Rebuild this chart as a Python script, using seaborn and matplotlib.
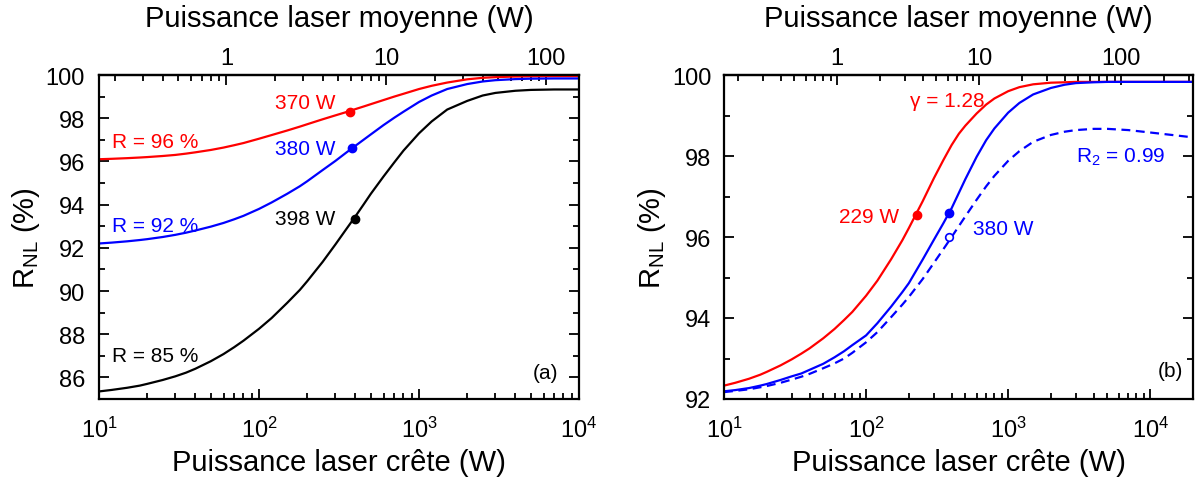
import numpy as np
import pandas as pd
import matplotlib
matplotlib.use("Agg")
import matplotlib.pyplot as plt
from matplotlib.ticker import MultipleLocator, LogLocator, NullFormatter
import seaborn as sns

sns.set_theme(style="ticks")
plt.rcParams["font.family"] = ["Liberation Sans", "DejaVu Sans"]
plt.rcParams["mathtext.fontset"] = "custom"
plt.rcParams["mathtext.rm"] = "Liberation Sans"
plt.rcParams["mathtext.it"] = "Liberation Sans:italic"
for k in ["xtick.color", "ytick.color", "axes.edgecolor", "axes.labelcolor", "text.color"]:
    plt.rcParams[k] = "black"

# peak power (W) -> mean power (W)
MEAN_PER_PEAK = 0.016

# panel (a): R_NL (%) vs peak power for three linear reflectivities
peak_a = [10, 12, 15, 18, 20, 25, 30, 35, 40, 50, 60, 70, 80, 100, 120, 150,
          180, 200, 250, 300, 350, 400, 450, 500, 600, 700, 800, 1000, 1200,
          1500, 2000, 2500, 3000, 4000, 5000, 7000, 10000]
r96 = [96.1, 96.12, 96.15, 96.18, 96.2, 96.25, 96.3, 96.36, 96.42, 96.53,
       96.64, 96.75, 96.85, 97.05, 97.22, 97.43, 97.61, 97.72, 97.95, 98.13,
       98.28, 98.42, 98.54, 98.65, 98.84, 99.0, 99.13, 99.35, 99.5, 99.65,
       99.8, 99.87, 99.9, 99.93, 99.94, 99.95, 99.95]
r92 = [92.2, 92.24, 92.3, 92.36, 92.4, 92.5, 92.6, 92.7, 92.8, 92.98, 93.15,
       93.32, 93.48, 93.8, 94.1, 94.5, 94.85, 95.08, 95.6, 96.02, 96.4, 96.72,
       97.0, 97.25, 97.68, 98.02, 98.3, 98.75, 99.05, 99.35, 99.58, 99.7,
       99.76, 99.81, 99.83, 99.84, 99.84]
r85 = [85.35, 85.42, 85.52, 85.62, 85.7, 85.88, 86.05, 86.22, 86.4, 86.75,
       87.08, 87.4, 87.7, 88.25, 88.75, 89.45, 90.05, 90.45, 91.35, 92.15,
       92.85, 93.45, 94.0, 94.5, 95.3, 95.95, 96.5, 97.3, 97.85, 98.4, 98.8,
       99.05, 99.17, 99.27, 99.31, 99.33, 99.33]
pts_a_x = [370, 380, 398]
pts_a_y = [98.3, 96.6, 93.35]
pts_a_lbl = ["370 W", "380 W", "398 W"]

# panel (b): R = 92 %, gamma = 1.28 / nominal / with R2 = 0.99
peak_b = peak_a + [15000, 20000]
gamma128 = [92.33, 92.4, 92.5, 92.6, 92.67, 92.83, 92.98, 93.12, 93.25, 93.5,
            93.73, 93.95, 94.15, 94.55, 94.92, 95.45, 95.92, 96.22, 96.88,
            97.45, 97.9, 98.27, 98.55, 98.75, 99.05, 99.27, 99.42, 99.6, 99.7,
            99.77, 99.81, 99.82, 99.83, 99.83, 99.83, 99.83, 99.83, 99.83, 99.83]
nominal = [92.19, 92.22, 92.27, 92.33, 92.37, 92.47, 92.56, 92.63, 92.72,
           92.87, 93.03, 93.18, 93.33, 93.57, 93.87, 94.28, 94.64, 94.86, 95.44,
           95.93, 96.34, 96.71, 97.09, 97.43, 97.98, 98.39, 98.68, 99.07, 99.31,
           99.52, 99.68, 99.76, 99.8, 99.82, 99.83, 99.83, 99.83, 99.83, 99.83]
r2_099 = [92.17, 92.2, 92.24, 92.29, 92.32, 92.4, 92.48, 92.55, 92.62, 92.76,
          92.88, 93.0, 93.14, 93.4, 93.65, 94.02, 94.33, 94.52, 94.96, 95.36,
          95.7, 96.0, 96.27, 96.51, 96.92, 97.25, 97.51, 97.88, 98.12, 98.35,
          98.52, 98.6, 98.64, 98.67, 98.67, 98.64, 98.58, 98.51, 98.46]

df_a = pd.concat([
    pd.DataFrame({"P": peak_a, "R": r96, "K": "96"}),
    pd.DataFrame({"P": peak_a, "R": r92, "K": "92"}),
    pd.DataFrame({"P": peak_a, "R": r85, "K": "85"}),
])
df_b = pd.concat([
    pd.DataFrame({"P": peak_b, "R": gamma128, "K": "g", "S": "solid"}),
    pd.DataFrame({"P": peak_b, "R": nominal, "K": "n", "S": "solid"}),
    pd.DataFrame({"P": peak_b, "R": r2_099, "K": "n", "S": "dash"}),
])

fig = plt.figure(figsize=(12, 4.89), dpi=100)
ax_a = fig.add_axes([99 / 1200, 1 - 400 / 489, 480 / 1200, 324 / 489])
ax_b = fig.add_axes([724 / 1200, 1 - 400 / 489, 469 / 1200, 324 / 489])

sns.lineplot(data=df_a, x="P", y="R", hue="K", palette=["red", "blue", "black"],
             lw=1.6, legend=False, ax=ax_a)
sns.lineplot(data=df_b, x="P", y="R", hue="K", palette=["red", "blue"],
             style="S", dashes={"solid": "", "dash": (4, 2.5)},
             lw=1.6, legend=False, ax=ax_b)

for x, y, c, lbl in zip(pts_a_x, pts_a_y, ["red", "blue", "black"], pts_a_lbl):
    ax_a.plot(x, y, "o", color=c, ms=6)
    ax_a.text(300, y + (0.45 if c == "red" else 0), lbl, color=c, fontsize=15,
              ha="right", va="center")
ax_a.text(12, 96.9, "R = 96 %", color="red", fontsize=15, va="center")
ax_a.text(12, 93.05, "R = 92 %", color="blue", fontsize=15, va="center")
ax_a.text(12, 87.0, "R = 85 %", color="black", fontsize=15, va="center")
ax_a.text(7400, 86.25, "(a)", fontsize=15, ha="right", va="center")

ax_b.plot(229, 96.54, "o", color="red", ms=6)
ax_b.plot(384, 96.59, "o", color="blue", ms=6)
ax_b.plot(385, 96.0, "o", color="blue", mfc="white", ms=5.5, mew=1.2)
ax_b.text(170, 96.5, "229 W", color="red", fontsize=15, ha="right", va="center")
ax_b.text(570, 96.2, "380 W", color="blue", fontsize=15, va="center")
ax_b.text(680, 99.38, "γ = 1.28", color="red", fontsize=15, ha="right", va="center")
ax_b.text(3000, 98.0, "R$_\\mathregular{2}$ = 0.99", color="blue", fontsize=15,
          va="center")
ax_b.text(17000, 92.7, "(b)", fontsize=15, ha="right", va="center")

for ax, xmax, ylim, ypad in [(ax_a, 1e4, (85, 100), 10), (ax_b, 2e4, (92, 100), 9)]:
    ax.set_xscale("log")
    ax.set_xlim(10, xmax)
    ax.set_ylim(*ylim)
    ax.yaxis.set_major_locator(MultipleLocator(2))
    ax.yaxis.set_minor_locator(MultipleLocator(1))
    ax.xaxis.set_minor_locator(LogLocator(subs=np.arange(2, 10)))
    ax.xaxis.set_minor_formatter(NullFormatter())
    ax.tick_params(which="both", direction="in", top=False, right=True,
                   labelsize=17, width=1.3)
    ax.tick_params(which="major", length=7)
    ax.tick_params(which="minor", length=4)
    ax.tick_params(axis="x", pad=13)
    ax.tick_params(axis="y", pad=ypad)
    for sp in ax.spines.values():
        sp.set_linewidth(1.6)
    ax.set_xlabel("Puissance laser crête (W)", fontsize=21, labelpad=4)
    ax.set_ylabel("R$_\\mathregular{NL}$ (%)", fontsize=21, labelpad=3)

    sec = ax.secondary_xaxis("top", functions=(lambda p: p * MEAN_PER_PEAK,
                                               lambda m: m / MEAN_PER_PEAK))
    sec.set_xticks([1, 10, 100])
    sec.set_xticklabels(["1", "10", "100"])
    sec.xaxis.set_minor_locator(LogLocator(subs=np.arange(2, 10)))
    sec.xaxis.set_minor_formatter(NullFormatter())
    sec.tick_params(which="both", direction="in", labelsize=17, width=1.3, pad=4.5)
    sec.tick_params(which="major", length=7)
    sec.tick_params(which="minor", length=4)
    sec.spines["top"].set_linewidth(1.6)
    sec.set_xlabel("Puissance laser moyenne (W)", fontsize=21, labelpad=15)

fig.savefig("out.png", dpi=100)
